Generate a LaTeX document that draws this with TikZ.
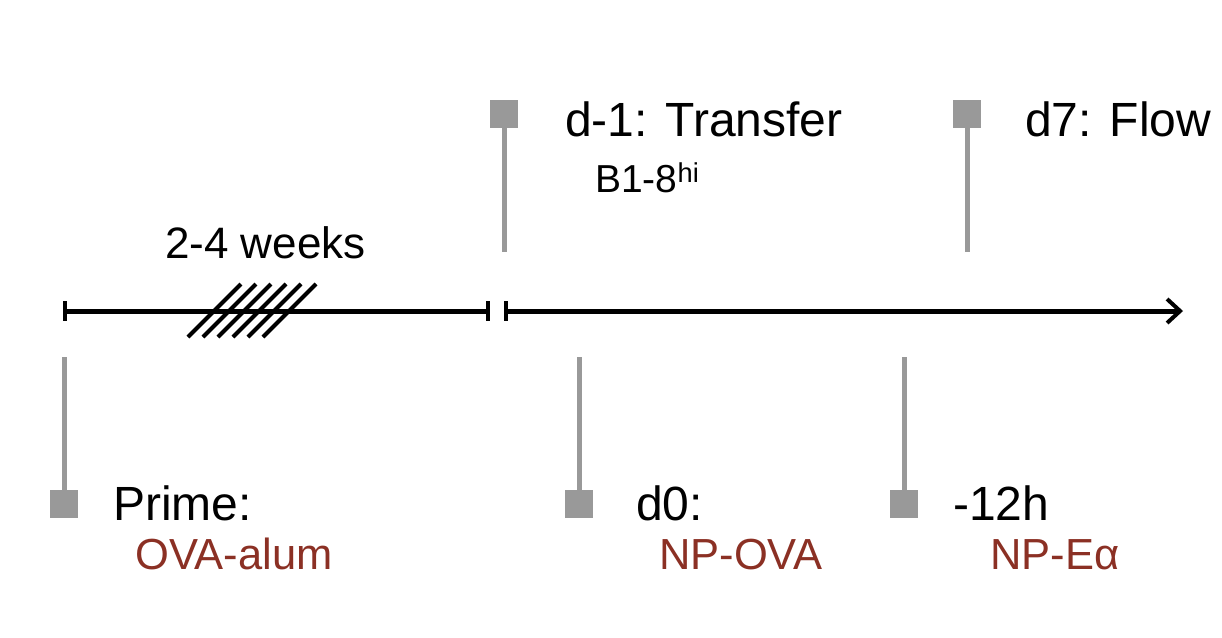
\documentclass[tikz,border=0pt]{standalone}
\usepackage{fontspec}
\setmainfont{Liberation Sans}
\usetikzlibrary{arrows.meta}
\definecolor{mk}{HTML}{999999}
\definecolor{rd}{HTML}{8B3024}
\begin{document}
\begin{tikzpicture}[x=1pt,y=-1pt,
  txt/.style={anchor=base west,inner sep=0pt,font=\fontsize{48}{52}\selectfont},
  sub/.style={anchor=base west,inner sep=0pt,font=\fontsize{43.5}{46}\selectfont,text=rd},
  sq/.style={fill=mk,minimum size=28pt,inner sep=0pt},
  stem/.style={draw=mk,line width=5pt},
  axis/.style={line width=5pt}]
\useasboundingbox (0,0) rectangle (1222,637);
% axis
\coordinate (a1) at (65,311); \coordinate (a2) at (488,311);
\coordinate (b1) at (506,311); \coordinate (b2) at (1183,311);
\draw[axis] (a1) -- (a2);
\draw[line width=3.5pt] (65,301) -- (65,321) (488,301) -- (488,321) (506,301) -- (506,321);
\draw[axis,-{Straight Barb[length=13pt,width=24pt,line width=4pt]}] (b1) -- (b2);
\foreach \i in {0,...,5}{\draw[line width=4pt] (188+15*\i,337) -- (241+15*\i,284);}
\node[txt,font=\fontsize{44}{48}\selectfont] (w) at (165,258) {2-4 weeks};
% top markers
\node[sq] (s1) at (504,114) {}; \coordinate (e1) at (504,252);
\draw[stem] (s1.south) -- (e1);
\node[txt] (t1) at (565,136) {d-1: Transfer};
\node[txt,font=\fontsize{39}{42}\selectfont] (t1b) at (595,192) {B1-8\textsuperscript{hi}};
\node[sq] (s2) at (967,114) {}; \coordinate (e2) at (967,252);
\draw[stem] (s2.south) -- (e2);
\node[txt] (t2) at (1025,136) {d7: Flow};
% bottom markers
\node[sq] (s3) at (64,504) {}; \coordinate (e3) at (64,357);
\draw[stem] (s3.north) -- (e3);
\node[txt] (t3) at (113,520) {Prime:};
\node[sub] (u3) at (135,569) {OVA-alum};
\node[sq] (s4) at (579,504) {}; \coordinate (e4) at (579,357);
\draw[stem] (s4.north) -- (e4);
\node[txt] (t4) at (636,520) {d0:};
\node[sub] (u4) at (659,569) {NP-OVA};
\node[sq] (s5) at (904,504) {}; \coordinate (e5) at (904,357);
\draw[stem] (s5.north) -- (e5);
\node[txt] (t5) at (953,520) {-12h};
\node[sub] (u5) at (990,569) {NP-Eα};
\end{tikzpicture}
\end{document}
